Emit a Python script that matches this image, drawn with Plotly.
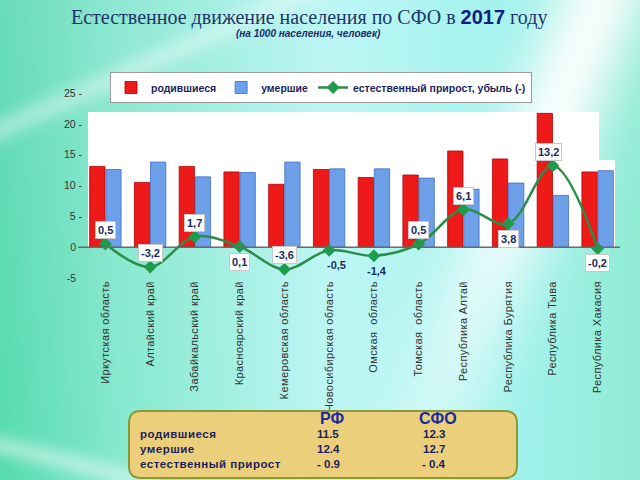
import base64
import struct
import zlib

import numpy as np
import plotly.graph_objects as go

# ---------------- data ----------------
regions = [
    "Иркутская область", "Алтайский край", "Забайкальский край", "Красноярский край",
    "Кемеровская область", "Новосибирская область", "Омская  область", "Томская  область",
    "Республика Алтай", "Республика Бурятия", "Республика Тыва", "Республика Хакасия",
]
births = [13.1, 10.5, 13.1, 12.2, 10.2, 12.6, 11.3, 11.7, 15.6, 14.3, 21.7, 12.2]
deaths = [12.6, 13.8, 11.4, 12.1, 13.8, 12.7, 12.7, 11.2, 9.4, 10.4, 8.4, 12.4]
growth = [0.5, -3.2, 1.7, 0.1, -3.6, -0.5, -1.4, 0.5, 6.1, 3.8, 13.2, -0.2]

y_ticks = [-5, 0, 5, 10, 15, 20, 25]
y_tick_text = ["-5\u00a0\u00a0", "0\u00a0\u00a0", "5 -", "10 -", "15 -", "20 -", "25 -"]

table_cols = ["РФ", "СФО"]
table_rows = ["родившиеся", "умершие", "естественный прирост"]
table_rf = ["11.5", "12.4", "- 0.9"]
table_sfo = ["12.3", "12.7", "- 0.4"]

title_main = "Естественное движение населения по СФО в "
title_year = "2017"
title_end = " году"
subtitle = "(на 1000 населения, человек)"

# ---------------- geometry helpers ----------------
FW, FH = 640, 480
L, R, T, B = 83, 20, 93, 202
PW, PH = FW - L - R, FH - T - B


def px(x):
    return (x - L) / PW


def py(y):
    return (FH - B - y) / PH


# ---------------- background gradient image ----------------
def make_background():
    w, h = 160, 120
    xs = (np.arange(w) + 0.5) * FW / w
    ys = (np.arange(h) + 0.5) * FH / h
    X, Y = np.meshgrid(xs, ys)
    stops_x = [0, 120, 330, 520, 640]
    stops_c = [(105, 220, 185), (145, 233, 212), (190, 247, 245), (160, 242, 236), (145, 236, 212)]
    img = np.zeros((h, w, 3))
    for k in range(3):
        img[..., k] = np.interp(X, stops_x, [c[k] for c in stops_c])
    g = np.clip((Y / FH) * (1 - X / 300), 0, 1)
    img[..., 0] -= 20 * g
    img[..., 2] -= 10 * g
    white = np.zeros((h, w))
    d1 = Y - (130 - 0.45 * X)
    white = np.maximum(white, 0.35 * np.exp(-(d1 / 14) ** 2) * (X < 420))
    d2 = X - (600 - 0.4 * Y)
    white = np.maximum(white, 0.9 * np.exp(-(d2 / 55) ** 2) * np.clip(1.3 - Y / 480, 0, 1))
    d3 = Y - (445 + 0.25 * X)
    white = np.maximum(white, 0.4 * np.exp(-(d3 / 12) ** 2) * (X < 160))
    img = img * (1 - white[..., None]) + 255 * white[..., None]
    arr = np.clip(img, 0, 255).astype(np.uint8)
    raw = b"".join(b"\x00" + arr[r].tobytes() for r in range(h))

    def chunk(t, d):
        return struct.pack(">I", len(d)) + t + d + struct.pack(">I", zlib.crc32(t + d) & 0xFFFFFFFF)

    png = (b"\x89PNG\r\n\x1a\n" + chunk(b"IHDR", struct.pack(">IIBBBBB", w, h, 8, 2, 0, 0, 0))
           + chunk(b"IDAT", zlib.compress(raw, 9)) + chunk(b"IEND", b""))
    return "data:image/png;base64," + base64.b64encode(png).decode()


# ---------------- figure ----------------
fig = go.Figure()
fig.add_trace(go.Bar(
    x=regions, y=births, name="родившиеся",
    marker=dict(color="#ee1a1a", line=dict(color="#b00000", width=0.8)),
))
fig.add_trace(go.Bar(
    x=regions, y=deaths, name="умершие",
    marker=dict(color="#6e9fe9", line=dict(color="#3f6fc0", width=0.8)),
))
fig.add_trace(go.Scatter(
    x=regions, y=growth, name="естественный прирост, убыль (-)",
    mode="lines+markers",
    line=dict(color="#2b8d47", width=2.5, shape="spline", smoothing=1.0),
    marker=dict(symbol="diamond", size=10, color="#1f9c4b"),
))

# data labels
label_side = ["up", "up", "up", "down", "up", "down", "down", "up", "up", "down", "up", "down"]
label_box = [True, True, True, True, True, False, False, True, True, True, True, True]
label_dx = [0, 0, 0, 0, 0, 7, 3, 0, 0, 0, -4, 0]
for reg, val, side, boxed, dx in zip(regions, growth, label_side, label_box, label_dx):
    fig.add_annotation(
        x=reg, y=val, text=f"<b>{val:.1f}</b>".replace(".", ","),
        showarrow=False, yshift=14 if side == "up" else -15, xshift=dx,
        font=dict(family="Liberation Sans", size=11, color="#1c2a5c"),
        bgcolor="white" if boxed else "rgba(0,0,0,0)",
        bordercolor="#c8c8c8" if boxed else "rgba(0,0,0,0)", borderwidth=1, borderpad=2,
    )

# title & subtitle
fig.add_annotation(
    x=px(309), y=py(18), xref="paper", yref="paper", showarrow=False,
    xanchor="center", yanchor="middle",
    text=(f"{title_main}<span style='font-family:Liberation Sans;font-weight:bold;color:#10207a'>"
          f"{title_year}</span>{title_end}"),
    font=dict(family="Liberation Serif", size=20, color="#1d3668"),
)
fig.add_annotation(
    x=px(308), y=py(33), xref="paper", yref="paper", showarrow=False,
    xanchor="center", yanchor="middle",
    text=f"<b><i>{subtitle}</i></b>",
    font=dict(family="Liberation Sans", size=10, color="#1d2a6a"),
)

# table box
x0, x1, y0, y1, r = 129, 517, 411, 478, 12
path = (f"M {px(x0 + r)},{py(y0)} L {px(x1 - r)},{py(y0)} Q {px(x1)},{py(y0)} {px(x1)},{py(y0 + r)} "
        f"L {px(x1)},{py(y1 - r)} Q {px(x1)},{py(y1)} {px(x1 - r)},{py(y1)} "
        f"L {px(x0 + r)},{py(y1)} Q {px(x0)},{py(y1)} {px(x0)},{py(y1 - r)} "
        f"L {px(x0)},{py(y0 + r)} Q {px(x0)},{py(y0)} {px(x0 + r)},{py(y0)} Z")
fig.add_shape(type="path", path=path, xref="paper", yref="paper",
              fillcolor="#ebcf7a", line=dict(color="#8a9a3a", width=2), layer="above")

col_x = [332, 438]
for cx, name in zip(col_x, table_cols):
    fig.add_annotation(x=px(cx), y=py(418), xref="paper", yref="paper", showarrow=False,
                       xanchor="center", yanchor="middle", text=f"<b>{name}</b>",
                       font=dict(family="Liberation Sans", size=16, color="#1a2aa0"))
row_y = [434, 449, 464]
for ry, name, v1, v2 in zip(row_y, table_rows, table_rf, table_sfo):
    fig.add_annotation(x=px(138), y=py(ry), xref="paper", yref="paper", showarrow=False,
                       xanchor="left", yanchor="middle",
                       text=f"<span style='letter-spacing:0.5px'><b>{name}</b></span>",
                       font=dict(family="Liberation Sans", size=11.5, color="#1c1f5e"))
    for cx, v in zip(col_x, [v1, v2]):
        fig.add_annotation(x=px(cx - 4), y=py(ry), xref="paper", yref="paper", showarrow=False,
                           xanchor="center", yanchor="middle", text=f"<b>{v}</b>",
                           font=dict(family="Liberation Sans", size=11.5, color="#1c1f5e"))

# white chart panel + zero line
fig.add_shape(type="rect", xref="paper", yref="paper", x0=px(88), x1=px(599), y0=py(247), y1=py(112),
              fillcolor="white", line=dict(width=0), layer="below")
fig.add_shape(type="rect", xref="paper", yref="paper", x0=px(598), x1=px(615), y0=py(247), y1=py(160),
              fillcolor="white", line=dict(width=0), layer="below")
fig.add_shape(type="line", xref="paper", yref="y", x0=px(78), x1=1.0, y0=0, y1=0,
              line=dict(color="#6a6a6a", width=1.5), layer="above")

fig.add_layout_image(dict(
    source=make_background(), xref="paper", yref="paper",
    x=px(0), y=py(0), sizex=FW / PW, sizey=FH / PH,
    xanchor="left", yanchor="top", sizing="stretch", layer="below",
))

fig.update_layout(
    width=FW, height=FH,
    margin=dict(l=L, r=R, t=T, b=B),
    paper_bgcolor="#b0f0e8", plot_bgcolor="rgba(0,0,0,0)",
    barmode="group", bargap=0.28, bargroupgap=0.05,
    font=dict(family="Liberation Sans", color="#333333"),
    legend=dict(
        orientation="h", x=px(110), y=py(72), xanchor="left", yanchor="top",
        bgcolor="white", bordercolor="#9a9a9a", borderwidth=1,
        font=dict(family="Liberation Sans", size=10.5, color="#1c1f5e", weight="bold"),
        itemwidth=30, tracegroupgap=0,
    ),
    xaxis=dict(
        tickangle=-90, showgrid=False, showline=False, zeroline=False, ticks="",
        tickmode="array", tickvals=regions,
        ticktext=[f"<span style='letter-spacing:0.4px'>{reg}</span>" for reg in regions],
        tickfont=dict(family="Liberation Sans", size=11, color="#333333"),
        range=[-0.5, len(regions) - 0.5],
    ),
    yaxis=dict(
        range=[-5, 25], tickvals=y_ticks, ticktext=y_tick_text, showgrid=False,
        zeroline=False, showline=False, ticks="",
        tickfont=dict(family="Liberation Sans", size=10.5, color="#333333"),
    ),
    showlegend=True,
)

fig.write_html(
    "out.html",
    config={"displayModeBar": False},
    post_script="document.body.style.margin='0';document.body.style.overflow='hidden';",
)
